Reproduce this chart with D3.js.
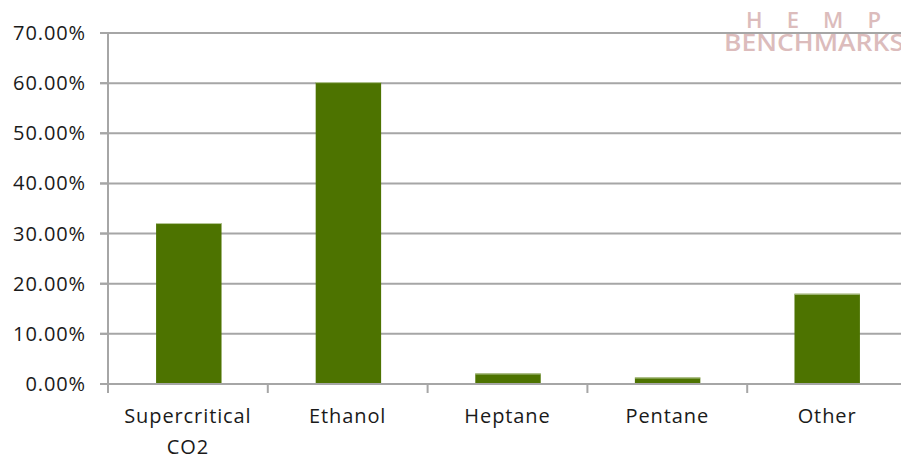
<!DOCTYPE html>
<html><head><meta charset="utf-8">
<script src="https://cdn.jsdelivr.net/npm/d3@7"></script>
<style>body{margin:0;background:#fff}svg{display:block}</style>
</head><body><svg id="c" width="901" height="462"></svg>
<script>
const categories = [["Supercritical","CO2"],["Ethanol"],["Heptane"],["Pentane"],["Other"]];
const values = [0.321, 0.602, 0.021, 0.013, 0.18];
const yTicks = [0,0.1,0.2,0.3,0.4,0.5,0.6,0.7];

const svg = d3.select("#c");
const font = "'Open Sans', 'Noto Sans', sans-serif";
const x = d3.scaleBand().domain(d3.range(categories.length)).range([109, 907]).paddingInner(0.59).paddingOuter(0.295);
const xb = d3.scaleBand().domain(d3.range(categories.length)).range([108, 907]);
const y = d3.scaleLinear().domain([0,0.7]).range([384,33]);

// gridlines
svg.append("g").selectAll("line").data(yTicks.slice(1)).join("line")
  .attr("x1",100).attr("x2",901).attr("y1",d=>y(d)).attr("y2",d=>y(d))
  .attr("stroke","#a6a6a6").attr("stroke-width",2);

// watermark (single text block, two lines)
const wm = svg.append("text").attr("fill","#dcbcbc").style("font-family","'Open Sans',sans-serif").style("font-weight","600");
wm.append("tspan").attr("x",746).attr("y",28).attr("font-size",22).attr("textLength",135).attr("lengthAdjust","spacing").text("HEMP");
wm.append("tspan").attr("x",724).attr("y",51).attr("font-size",23).attr("textLength",180).attr("lengthAdjust","spacingAndGlyphs").text("BENCHMARKS");

// bars
svg.append("g").selectAll("rect").data(values).join("rect")
  .attr("x",(d,i)=>x(i)).attr("width",x.bandwidth())
  .attr("y",d=>y(d)).attr("height",d=>y(0)-y(d))
  .attr("fill","#4d7300");
svg.append("g").selectAll("line").data(values).join("line")
  .attr("x1",(d,i)=>x(i)).attr("x2",(d,i)=>x(i)+x.bandwidth())
  .attr("y1",d=>y(d)+0.5).attr("y2",d=>y(d)+0.5)
  .attr("stroke","#b9c99a").attr("stroke-width",1);

// y axis
svg.append("line").attr("x1",108).attr("x2",108).attr("y1",33).attr("y2",392).attr("stroke","#a6a6a6").attr("stroke-width",2);
svg.append("g").selectAll("line").data(yTicks).join("line")
  .attr("x1",100).attr("x2",108).attr("y1",d=>y(d)).attr("y2",d=>y(d))
  .attr("stroke","#a6a6a6").attr("stroke-width",2);
svg.append("g").selectAll("text").data(yTicks).join("text")
  .attr("x",86).attr("y",d=>y(d)+7).attr("text-anchor","end")
  .style("font-family",font).attr("font-size",20).attr("letter-spacing",0.9).attr("fill","#1a1a1a")
  .text(d=>d3.format(".2%")(d));

// x axis
svg.append("line").attr("x1",100).attr("x2",901).attr("y1",384).attr("y2",384).attr("stroke","#a6a6a6").attr("stroke-width",2);
svg.append("g").selectAll("line").data(d3.range(categories.length+1)).join("line")
  .attr("x1",i=>108+i*xb.bandwidth()).attr("x2",i=>108+i*xb.bandwidth())
  .attr("y1",384).attr("y2",393).attr("stroke","#a6a6a6").attr("stroke-width",2);
const lab = svg.append("g").selectAll("text").data(categories).join("text")
  .attr("x",(d,i)=>xb(i)+xb.bandwidth()/2).attr("y",423).attr("text-anchor","middle")
  .style("font-family",font).attr("font-size",20).attr("letter-spacing",0.9).attr("fill","#1a1a1a");
lab.each(function(d){
  const t=d3.select(this);
  d.forEach((s,k)=>t.append("tspan").attr("x",t.attr("x")).attr("dy",k?31:0).text(s));
});
</script></body></html>
